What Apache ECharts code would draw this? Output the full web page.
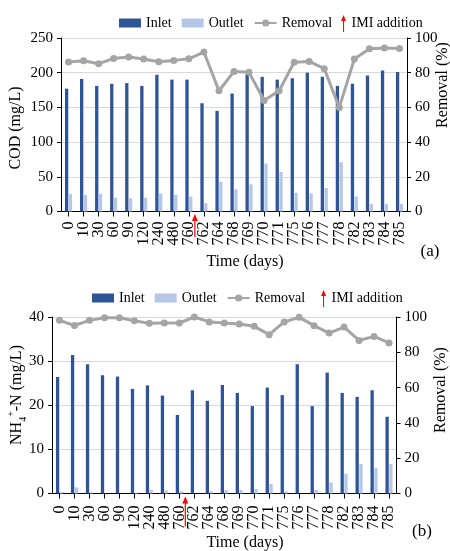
<!DOCTYPE html>
<html>
<head>
<meta charset="utf-8">
<script src="https://cdn.jsdelivr.net/npm/echarts@6/dist/echarts.min.js"></script>
<style>html,body{margin:0;padding:0;background:#fff}#c{width:450px;height:551px}</style>
</head>
<body>
<div id="c"></div>
<script>
// ---- data ----
const categories = ['0','10','30','60','90','120','240','480','760','762','764','768','769','770','771','775','776','777','778','782','783','784','785'];
const codInlet   = [177,191,181,184,185,181,197,190,190,156,145,170,198,194,190,192,200,194,181,184,196,203,201];
const codOutlet  = [25.5,24,25.5,20,19,20,26,24,21.5,12,43,32,39,69,57,27,26,34,71,21.6,11,11,11];
const codRemoval = [86.2,86.9,85.2,88.2,89,87.9,86.3,87.1,88,91.9,69.6,80.7,80.2,64,69.6,86,86.5,82.3,60,87.9,93.8,94.2,94];
const nhInlet    = [26.4,31.4,29.3,26.8,26.5,23.7,24.5,22.2,17.8,23.4,21.0,24.6,22.8,19.8,24.0,22.3,29.3,19.8,27.4,22.8,21.9,23.4,17.4];
const nhOutlet   = [0.3,1.4,0.3,0,0,0.2,0.8,0.7,0.5,0,0.5,0.7,0.8,1.0,2.2,0.5,0,0.8,2.5,4.5,6.7,5.8,6.7];
const nhRemoval  = [98.1,95.2,98.1,99.6,99.6,97.9,96.4,96.6,96.6,100,97.2,96.6,96,94.7,90,97.2,99.8,95.1,90.9,94.3,86.7,89,85.3];
const codTicks = {min:0, max:250, interval:50};
const nhTicks  = {min:0, max:40, interval:10};
const remTicks = {min:0, max:100, interval:20};
const imiBetween = ['760','762'];

// ---- style ----
const FONT = 'Liberation Serif';
const INLET = '#2F5597', OUTLET = '#B4C7E7', REM = '#A5A5A5', RED = '#FF0000';

const chart = echarts.init(document.getElementById('c'), null, {renderer:'canvas'});

function xAx(gi, margin){
  return {type:'category', gridIndex:gi, data:categories, boundaryGap:true,
    axisLine:{show:true, lineStyle:{color:'#000', width:1}},
    axisTick:{show:true, alignWithLabel:true, length:5, lineStyle:{color:'#000'}},
    axisLabel:{rotate:90, interval:0, fontFamily:FONT, fontSize:16, color:'#000', margin:margin},
    splitLine:{show:false}};
}
function yAx(gi, pos, t, split){
  return {type:'value', gridIndex:gi, position:pos, min:t.min, max:t.max, interval:t.interval,
    axisLine:{show:true, lineStyle:{color:'#000', width:1}},
    axisTick:{show:true, length:4, lineStyle:{color:'#000'}},
    axisLabel:{fontFamily:FONT, fontSize:15, color:'#000', margin:8},
    splitLine:{show:split, lineStyle:{color:'#D9D9D9', width:1}}};
}
function barS(name, xi, yi, data, color){
  return {name, type:'bar', xAxisIndex:xi, yAxisIndex:yi, data, barWidth:3.3, barGap:'15%',
    itemStyle:{color}, emphasis:{disabled:true}, animation:false};
}
function lineS(xi, yi, data){
  return {name:'Removal', type:'line', xAxisIndex:xi, yAxisIndex:yi, data,
    symbol:'circle', symbolSize:7, showAllSymbol:true,
    lineStyle:{color:REM, width:3}, itemStyle:{color:REM}, emphasis:{disabled:true}, animation:false, z:5};
}
const legText = {fontFamily:FONT, fontSize:14, color:'#000'};
const arrowIcon = 'path://M3,0L6,7L3.6,7L3.6,20L2.4,20L2.4,7L0,7Z';

const titleStyle = (txt, x, y, size, rot) => ({type:'text', x, y, rotation:rot||0,
  style:{text:txt, fontFamily:FONT, fontSize:size, fill:'#000', align:'center', verticalAlign:'middle'}});

chart.setOption({
  animation:false,
  textStyle:{fontFamily:FONT, color:'#000'},
  grid:[
    {left:61, top:38, width:346, height:173.5},
    {left:52, top:317, width:344.5, height:176.5}
  ],
  xAxis:[xAx(0, 10), xAx(1, 12)],
  yAxis:[yAx(0,'left',codTicks,true), yAx(0,'right',remTicks,false),
         yAx(1,'left',nhTicks,true),  yAx(1,'right',remTicks,false)],
  legend:[
    {data:[{name:'Inlet',icon:'rect'},{name:'Outlet',icon:'rect'},'Removal'], left:114, top:11,
     itemWidth:22, itemHeight:9, itemGap:10, textStyle:legText, selectedMode:false},
    {data:['IMI addition'], left:336, top:10, icon:arrowIcon, itemWidth:6, itemHeight:17, textStyle:legText, selectedMode:false},
    {data:[{name:'Inlet',icon:'rect'},{name:'Outlet',icon:'rect'},'Removal'], left:87, top:286,
     itemWidth:22, itemHeight:9, itemGap:10, textStyle:legText, selectedMode:false},
    {data:['IMI addition'], left:316, top:285, icon:arrowIcon, itemWidth:6, itemHeight:17, textStyle:legText, selectedMode:false}
  ],
  series:[
    barS('Inlet',0,0,codInlet,INLET), barS('Outlet',0,0,codOutlet,OUTLET), lineS(0,1,codRemoval),
    barS('Inlet',1,2,nhInlet,INLET), barS('Outlet',1,2,nhOutlet,OUTLET), lineS(1,3,nhRemoval),
    {name:'IMI addition', type:'line', xAxisIndex:0, yAxisIndex:0, data:[], itemStyle:{color:RED}, lineStyle:{color:RED}}
  ],
  graphic:[
    titleStyle('COD (mg/L)', 16, 128, 16, Math.PI/2),
    {type:'text', x:17, y:395, rotation:Math.PI/2,
     style:{text:'{n|NH}{sub|4}{sup|+}{n|-N (mg/L)}', align:'center', verticalAlign:'middle', fill:'#000',
       rich:{n:{fontFamily:FONT, fontSize:16, lineHeight:22, verticalAlign:'middle', fill:'#000'},
             sub:{fontFamily:FONT, fontSize:10, lineHeight:10, verticalAlign:'bottom', fill:'#000'},
             sup:{fontFamily:FONT, fontSize:10, lineHeight:10, verticalAlign:'top', fill:'#000'}}}},
    titleStyle('Removal (%)', 443, 85, 16, Math.PI/2),
    titleStyle('Removal (%)', 441, 390, 16, Math.PI/2),
    titleStyle('Time (days)', 245, 262, 16),
    titleStyle('Time (days)', 245, 543, 16),
    titleStyle('(a)', 430, 252, 17),
    titleStyle('(b)', 422, 532, 17)
  ]
});

function arrowFor(xi, yi, tipOff, len){
  const i = categories.indexOf(imiBetween[0]), j = categories.indexOf(imiBetween[1]);
  const a = chart.convertToPixel({xAxisIndex:xi}, i);
  const b = chart.convertToPixel({xAxisIndex:xi}, j);
  const x = a + (b - a) * 0.4;
  const y0 = chart.convertToPixel({yAxisIndex:yi}, 0);
  const tip = y0 + tipOff, tail = tip + len;
  return [
    {type:'line', shape:{x1:x, y1:tip + 6, x2:x, y2:tail}, style:{stroke:RED, lineWidth:1.2}, z:100},
    {type:'polygon', shape:{points:[[x, tip],[x - 3, tip + 7],[x + 3, tip + 7]]}, style:{fill:RED}, z:100}
  ];
}
const arrows = arrowFor(0, 0, 2.5, 23).concat(arrowFor(1, 2, 3, 30));
const opt = chart.getOption();
chart.setOption({graphic: opt.graphic[0].elements.map(()=>({})).concat(arrows)});
</script>
</body>
</html>
